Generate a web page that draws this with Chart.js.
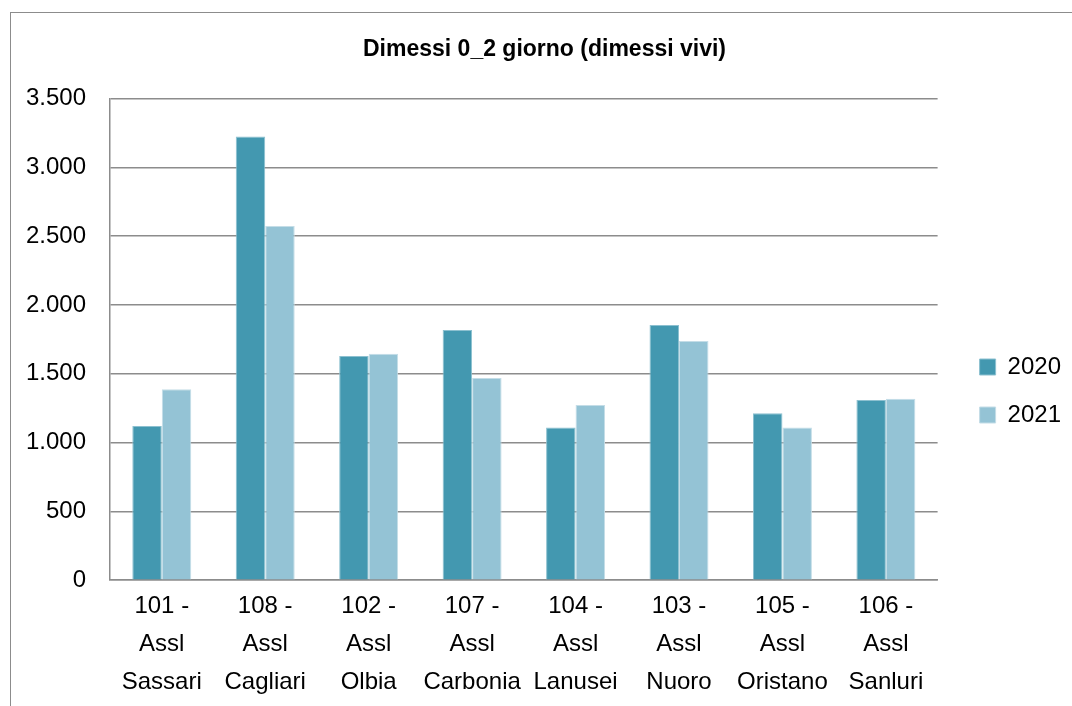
<!DOCTYPE html>
<html>
<head>
<meta charset="utf-8">
<script src="https://cdn.jsdelivr.net/npm/chart.js@4.4.1/dist/chart.umd.min.js"></script>
<style>
    html, body { margin: 0; padding: 0; background: #fff; overflow: hidden; }
    #wrap { position: relative; width: 1072px; height: 706px; }
    #frame { position: absolute; left: 10px; top: 12px; width: 1100px; height: 720px; border: 1px solid #8c8c8c; box-sizing: border-box; }
    canvas { position: absolute; left: 0; top: 0; }
</style>
</head>
<body>
<div id="wrap">
    <div id="frame"></div>
    <canvas id="chart" width="1072" height="706"></canvas>
</div>
<script>
// categorie (etichette su tre righe)
const categories = [
    ['101 -', 'Assl', 'Sassari'],
    ['108 -', 'Assl', 'Cagliari'],
    ['102 -', 'Assl', 'Olbia'],
    ['107 -', 'Assl', 'Carbonia'],
    ['104 -', 'Assl', 'Lanusei'],
    ['103 -', 'Assl', 'Nuoro'],
    ['105 -', 'Assl', 'Oristano'],
    ['106 -', 'Assl', 'Sanluri']
];
const seriesNames = ['2020', '2021'];
const values2020 = [1120, 3225, 1630, 1818, 1110, 1855, 1214, 1309];
const values2021 = [1388, 2575, 1645, 1469, 1274, 1738, 1110, 1318];
const yTicks = [0, 500, 1000, 1500, 2000, 2500, 3000, 3500];

const FONT = "'Liberation Sans', Arial, sans-serif";

// formato italiano: 3.500
function formatIt(v) {
    return String(v).replace(/\B(?=(\d{3})+(?!\d))/g, '.');
}

// sposta legenda e titolo come nell'originale
const boxShift = {
    id: 'boxShift',
    afterLayout(chart) {
        const lg = chart.legend;
        if (lg) {
            lg.left += 18; lg.right += 18;
            lg.top += 37; lg.bottom += 37;
        }
        const t = chart.titleBlock;
        if (t) {
            t.left += 17; t.right += 17;
        }
    }
};

const ctx = document.getElementById('chart').getContext('2d');
new Chart(ctx, {
    type: 'bar',
    data: {
        labels: categories,
        datasets: [{
            label: seriesNames[0],
            data: values2020,
            backgroundColor: '#4398b0',
            borderColor: '#8cc0d0',
            borderWidth: 1
        }, {
            label: seriesNames[1],
            data: values2021,
            backgroundColor: '#94c3d5',
            borderColor: '#c4dde7',
            borderWidth: 1
        }]
    },
    options: {
        responsive: false,
        animation: false,
        layout: { padding: { left: 2, right: 19, top: 0, bottom: -2 } },
        datasets: {
            bar: { categoryPercentage: 0.57, barPercentage: 1.0 }
        },
        scales: {
            x: {
                grid: { display: false, drawTicks: false },
                border: { display: true, color: '#8c8c8c', width: 1.5 },
                ticks: {
                    color: '#000',
                    padding: 7,
                    maxRotation: 0,
                    autoSkip: false,
                    font: { family: FONT, size: 24, lineHeight: 1.58 }
                }
            },
            y: {
                min: 0,
                max: 3500,
                afterBuildTicks: axis => { axis.ticks = yTicks.map(v => ({ value: v })); },
                grid: { color: '#8c8c8c', lineWidth: 1.5, drawTicks: false },
                border: { display: true, color: '#8c8c8c', width: 1.5 },
                ticks: {
                    color: '#000',
                    padding: 24,
                    font: { family: FONT, size: 24 },
                    callback: v => formatIt(v)
                }
            }
        },
        plugins: {
            title: {
                display: true,
                text: 'Dimessi 0_2 giorno (dimessi vivi)',
                color: '#000',
                font: { family: FONT, size: 23, weight: 'bold' },
                padding: { top: 36, bottom: 35 }
            },
            legend: {
                position: 'right',
                labels: {
                    color: '#000',
                    boxWidth: 16,
                    boxHeight: 16,
                    padding: 24,
                    font: { family: FONT, size: 24 }
                }
            },
            tooltip: { enabled: false }
        }
    },
    plugins: [boxShift]
});
</script>
</body>
</html>
